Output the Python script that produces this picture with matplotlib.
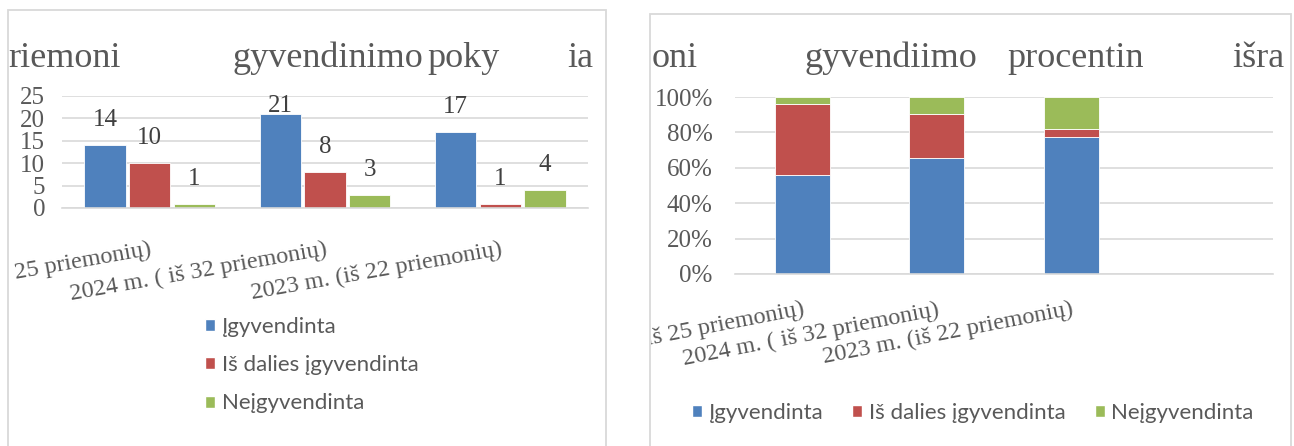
import matplotlib
matplotlib.use('Agg')
import matplotlib.pyplot as plt
import numpy as np
from matplotlib.patches import Rectangle, Patch
from matplotlib.transforms import Bbox, TransformedBbox

# data
categories = ['2025 m. (iš 25 priemonių)', '2024 m. ( iš 32 priemonių)', '2023 m. (iš 22 priemonių)']
series = ['Įgyvendinta', 'Iš dalies įgyvendinta', 'Neįgyvendinta']
igyvendinta = [14, 21, 17]
is_dalies = [10, 8, 1]
neigyvendinta = [1, 3, 4]
colors = ['#4F81BD', '#C0504D', '#9BBB59']

W, H = 1294, 446
fig = plt.figure(figsize=(W / 100, H / 100), dpi=100)

def fx(px):
    return px / W

def fy(py):
    return 1 - py / H

serif = 'Liberation Serif'
grey = '#595959'
grid = '#D9D9D9'

# panel frames
for x0, x1, y0 in [(8, 606, 10), (650, 1291, 14)]:
    fig.patches.append(Rectangle((fx(x0), fy(H + 20)), fx(x1) - fx(x0), fy(y0) - fy(H + 20),
                                 transform=fig.transFigure, fill=False, ec=grid, lw=1.3))

# titles (glyphs missing in the original rendering)
for word, x in [('riemoni', 8), ('gyvendinimo', 232), ('poky', 427), ('ia', 567)]:
    fig.text(fx(x), fy(67), word, family=serif, size=26, color=grey, va='baseline')
for word, x in [('oni', 652), ('gyvendiimo', 804), ('procentin', 1007), ('išra', 1232)]:
    fig.text(fx(x), fy(67), word, family=serif, size=26, color=grey, va='baseline')

data = np.array([igyvendinta, is_dalies, neigyvendinta])

# ---- left: clustered columns
ax1 = fig.add_axes([fx(62), fy(208), fx(588) - fx(62), fy(96) - fy(208)])
x = np.arange(len(categories))
bw = 0.235
for i, (vals, c) in enumerate(zip(data, colors)):
    pos = x + (i - 1) * (bw + 0.02)
    ax1.bar(pos, vals, bw, color=c, edgecolor='white', lw=0.6, zorder=2)
    for p, v in zip(pos, vals):
        ax1.text(p, min(v + 3.1, 20.3), str(v), ha='center', va='bottom',
                 family=serif, size=18, color='#404040')
ax1.set_ylim(0, 25)
ax1.set_xlim(-0.5, 2.5)
ax1.set_yticks([0, 5, 10, 15, 20, 25])
ax1.yaxis.grid(True, color=grid, lw=1.2)
ax1.set_axisbelow(True)
ax1.set_xticks(x)
ax1.set_xticklabels(categories, rotation=10, ha='right', rotation_mode='anchor')
ax1.tick_params(axis='x', length=0, pad=22)
ax1.tick_params(axis='y', length=0, pad=12)
for s in ['top', 'right', 'left']:
    ax1.spines[s].set_visible(False)
ax1.spines['bottom'].set_color(grid)
ax1.spines['bottom'].set_lw(1.2)

clip1 = TransformedBbox(Bbox.from_extents(fx(9), 0, fx(605), 1), fig.transFigure)
for lab in ax1.get_xticklabels() + ax1.get_yticklabels():
    lab.set_family(serif)
    lab.set_size(18)
    lab.set_color(grey)
for lab in ax1.get_xticklabels():
    lab.set_size(17.5)
    lab.set_clip_box(clip1)
    lab.set_clip_on(True)

handles = [Patch(facecolor=c, edgecolor='white') for c in colors]
fig.legend(handles, series, loc='upper left', bbox_to_anchor=(fx(185), fy(297)),
           frameon=False, prop={'family': 'Lato', 'size': 16}, labelcolor=grey,
           handlelength=0.45, handleheight=0.45, handletextpad=0.3, labelspacing=0.82)

# ---- right: 100% stacked columns
totals = data.sum(axis=0)
pct = data / totals * 100
ax2 = fig.add_axes([fx(735), fy(274), fx(1273) - fx(735), fy(97) - fy(274)])
x2 = np.arange(len(categories) + 1)
bottom = np.zeros(len(categories))
for vals, c in zip(pct, colors):
    ax2.bar(x[:len(categories)], vals, 0.41, bottom=bottom, color=c, edgecolor='white', lw=0.6, zorder=2)
    bottom += vals
ax2.set_ylim(0, 100)
ax2.set_xlim(-0.5, 3.5)
ax2.set_yticks(range(0, 101, 20))
ax2.set_yticklabels([f'{v}%' for v in range(0, 101, 20)])
ax2.yaxis.grid(True, color=grid, lw=1.2)
ax2.set_axisbelow(True)
ax2.set_xticks(x2)
ax2.set_xticklabels(categories + [''], rotation=11, ha='right', rotation_mode='anchor')
ax2.tick_params(axis='x', length=0, pad=18)
ax2.tick_params(axis='y', length=0, pad=16)
for s in ['top', 'right', 'left']:
    ax2.spines[s].set_visible(False)
ax2.spines['bottom'].set_color(grid)
ax2.spines['bottom'].set_lw(1.2)

clip2 = TransformedBbox(Bbox.from_extents(fx(651), 0, fx(1290), 1), fig.transFigure)
for lab in ax2.get_xticklabels() + ax2.get_yticklabels():
    lab.set_family(serif)
    lab.set_size(18)
    lab.set_color(grey)
for lab in ax2.get_xticklabels():
    lab.set_size(17.5)
    lab.set_clip_box(clip2)
    lab.set_clip_on(True)

fig.legend(handles, series, loc='upper left', bbox_to_anchor=(fx(672), fy(383)), ncol=3,
           frameon=False, prop={'family': 'Lato', 'size': 16}, labelcolor=grey,
           handlelength=0.45, handleheight=0.45, handletextpad=0.3, columnspacing=1.3)

fig.savefig('out.png', dpi=100)
